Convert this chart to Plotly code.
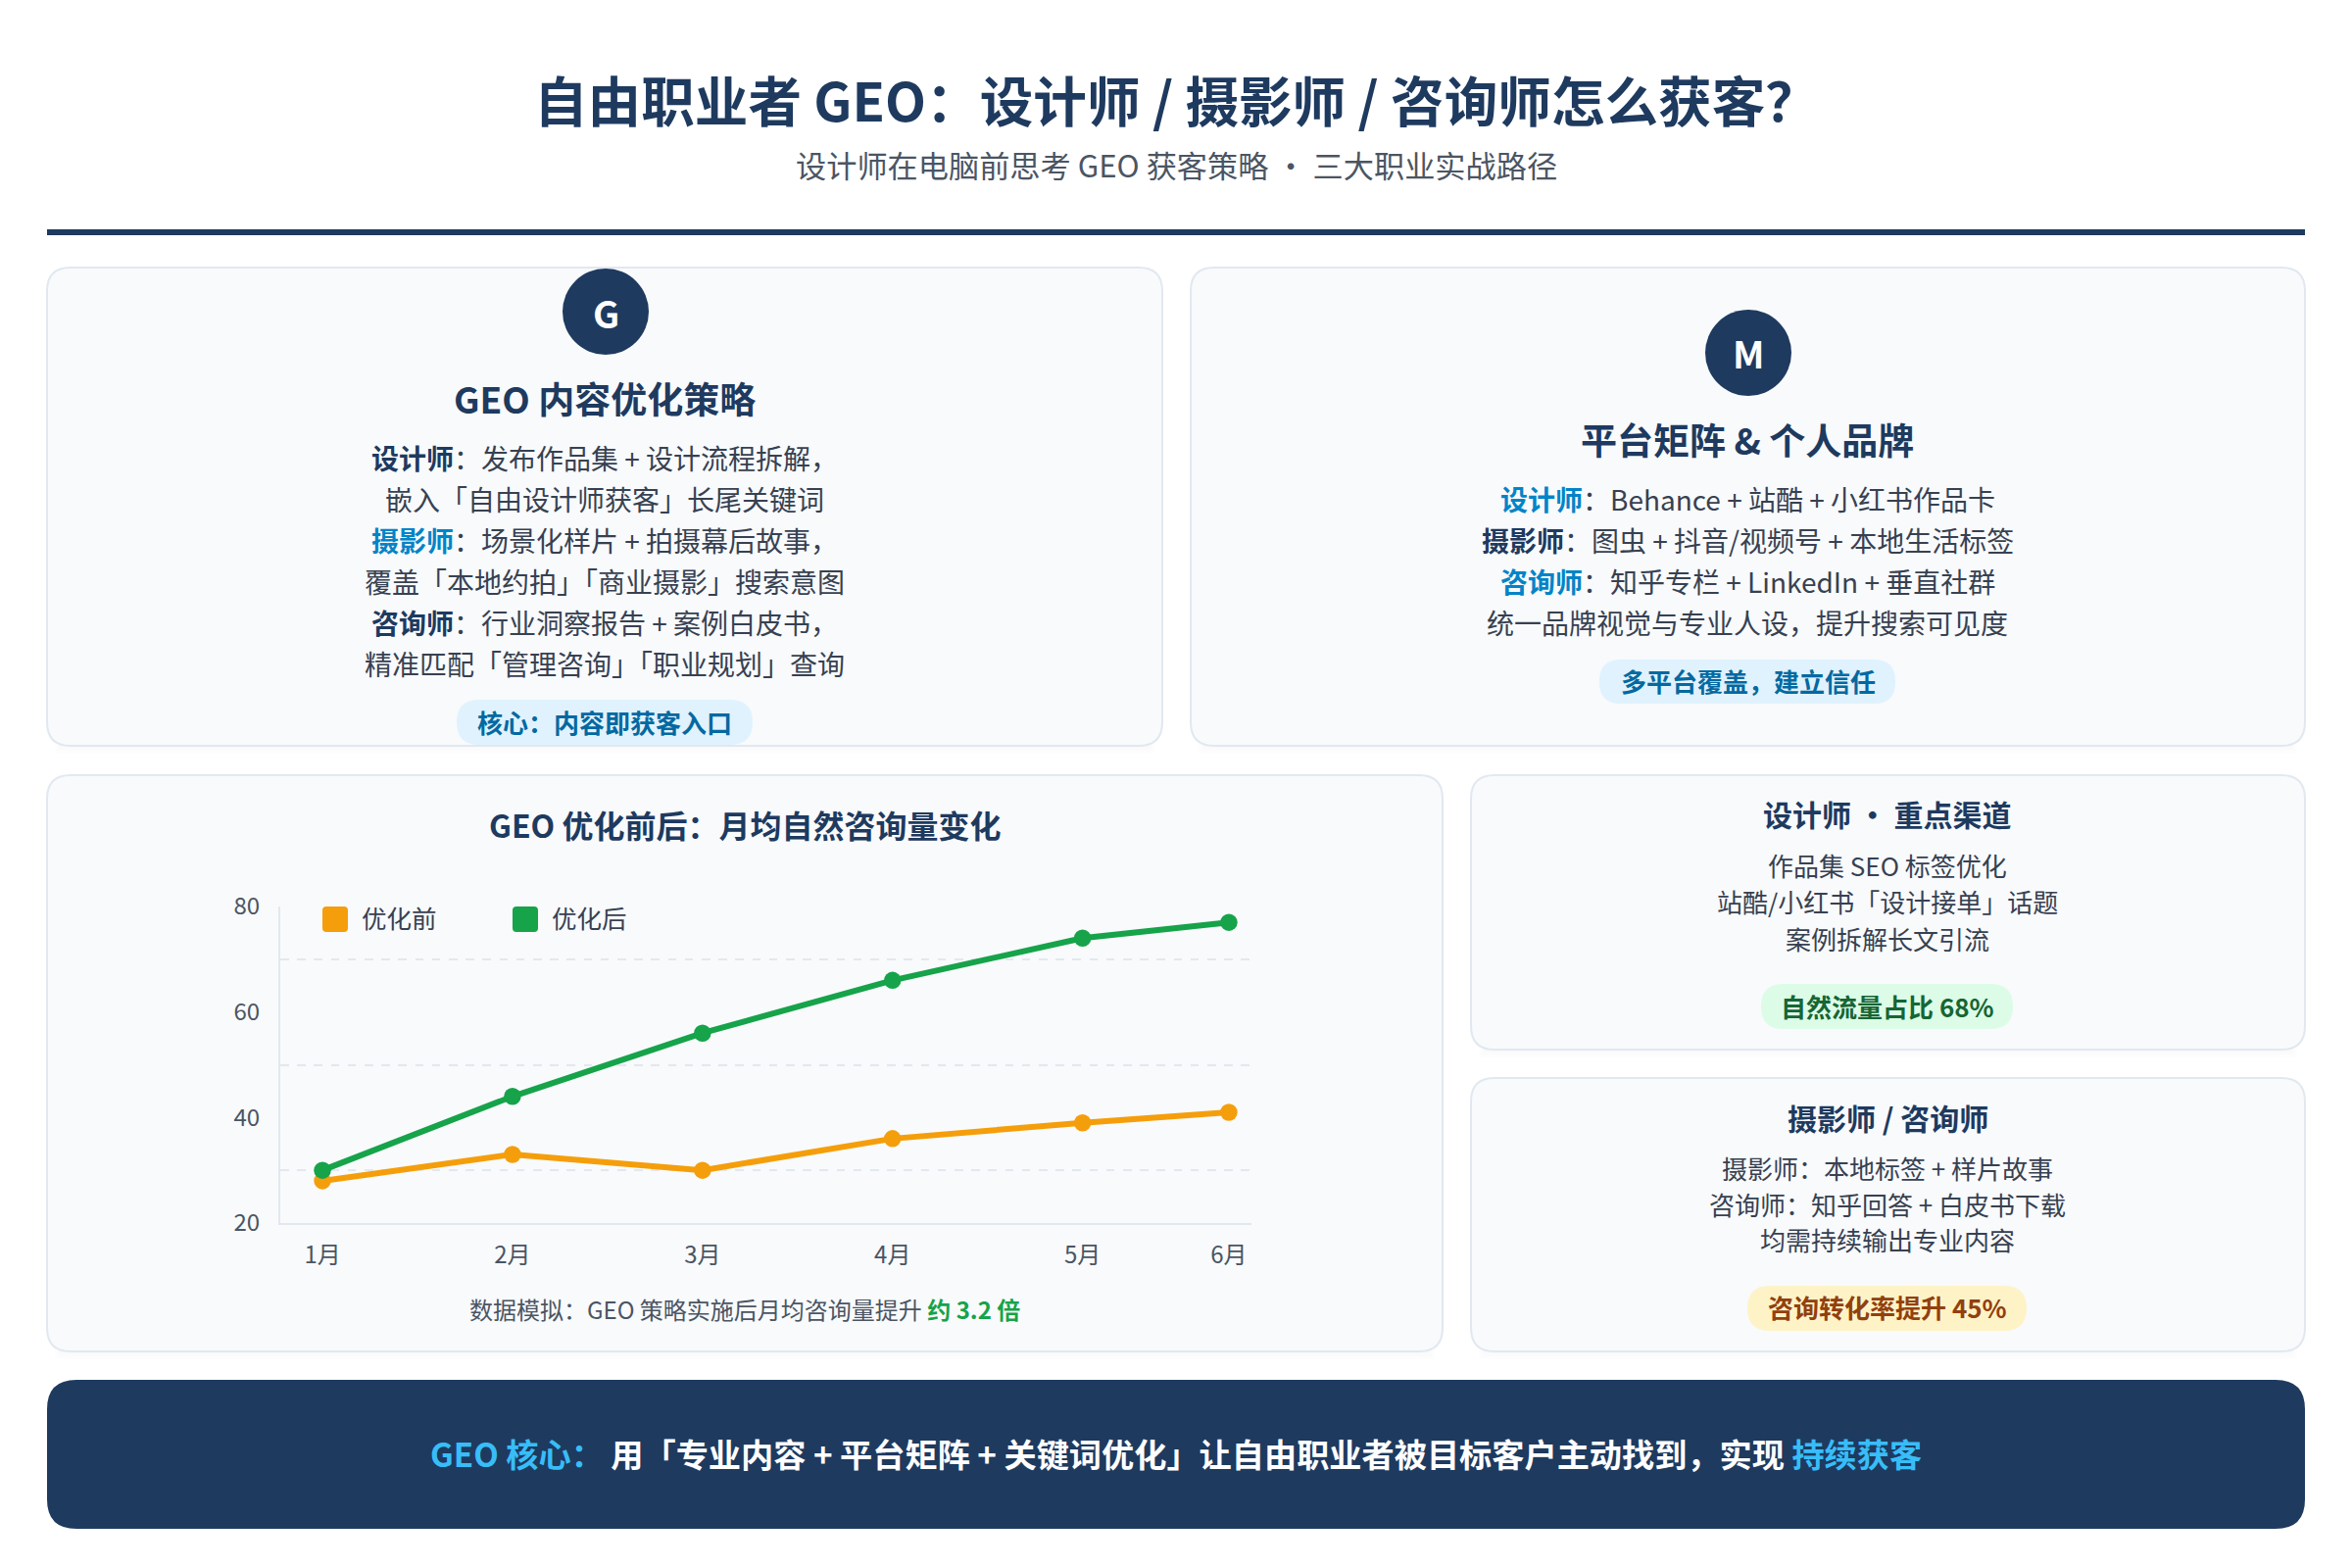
"""
自由职业者 GEO 信息图: cards drawn as shapes, the line chart on real axes.
"""

import plotly.graph_objects as go

W, H = 2400, 1600
FONT = "Noto Sans CJK SC"

NAVY = "#1e3a5f"
BLUE = "#0284c7"
BODY = "#374151"
GREY = "#4b5563"
CARD = "#f8fafc"
EDGE = "#e2e8f0"
ORANGE = "#f59e0b"
GREEN = "#16a34a"
SKY = "#38bdf8"

# chart data
month_x = [1, 2, 3, 4, 5, 5.77]
month_labels = ["1月", "2月", "3月", "4月", "5月", "6月"]
before = [28, 33, 30, 36, 39, 41]
after = [30, 44, 56, 66, 74, 77]
y_ticks = [20, 40, 60, 80]
y_grid = [30, 50, 70]

shapes = []
notes = []


def px(x):
    return x / W


def py(y):
    return 1 - y / H


def round_rect(x0, y0, x1, y1, r, fill, line=None, width=0):
    path = (
        f"M {px(x0 + r)} {py(y0)} L {px(x1 - r)} {py(y0)} "
        f"Q {px(x1)} {py(y0)} {px(x1)} {py(y0 + r)} L {px(x1)} {py(y1 - r)} "
        f"Q {px(x1)} {py(y1)} {px(x1 - r)} {py(y1)} L {px(x0 + r)} {py(y1)} "
        f"Q {px(x0)} {py(y1)} {px(x0)} {py(y1 - r)} L {px(x0)} {py(y0 + r)} "
        f"Q {px(x0)} {py(y0)} {px(x0 + r)} {py(y0)} Z"
    )
    shapes.append(
        dict(
            type="path",
            xref="paper",
            yref="paper",
            path=path,
            fillcolor=fill,
            line=dict(color=line or fill, width=width),
            layer="below",
        )
    )


def card(x0, y0, x1, y1):
    # soft shadow first, then the card on top
    for grow in (8, 5, 2):
        shapes.append(
            dict(
                type="rect",
                xref="paper",
                yref="paper",
                x0=px(x0 + 16 - grow),
                x1=px(x1 - 16 + grow),
                y0=py(y1 + grow),
                y1=py(y1 - 10),
                fillcolor="rgba(0,0,0,0.008)",
                line_width=0,
                layer="below",
            )
        )
    round_rect(x0, y0, x1, y1, 24, CARD, EDGE, 2)


def circle(cx, cy, r, fill):
    shapes.append(
        dict(
            type="circle",
            xref="paper",
            yref="paper",
            x0=px(cx - r),
            x1=px(cx + r),
            y0=py(cy + r),
            y1=py(cy - r),
            fillcolor=fill,
            line_width=0,
            layer="below",
        )
    )


def label(x, y, text, size, color=BODY, bold=False, anchor="center"):
    notes.append(
        dict(
            x=px(x),
            y=py(y),
            xref="paper",
            yref="paper",
            text=f"<b>{text}</b>" if bold else text,
            showarrow=False,
            xanchor=anchor,
            yanchor="middle",
            font=dict(family=FONT, size=size, color=color),
        )
    )


def tint(text, color):
    return f'<b><span style="color:{color}">{text}</span></b>'


# header
label(1200, 100, "自由职业者 GEO：设计师 / 摄影师 / 咨询师怎么获客？", 54.6, NAVY, True)
label(1200, 168, "设计师在电脑前思考 GEO 获客策略 · 三大职业实战路径", 31.2, GREY)
round_rect(48, 234, 2352, 240, 0.01, NAVY)

# top left card
card(48, 273, 1186, 761)
circle(618, 318, 44, NAVY)
label(618, 318, "G", 38, "#ffffff", True)
label(617, 406, "GEO 内容优化策略", 37, NAVY, True)
label(617, 467, tint("设计师", NAVY) + "：发布作品集 + 设计流程拆解，", 28)
label(617, 509, "嵌入「自由设计师获客」长尾关键词", 28)
label(617, 551, tint("摄影师", BLUE) + "：场景化样片 + 拍摄幕后故事，", 28)
label(617, 593, "覆盖「本地约拍」「商业摄影」搜索意图", 28)
label(617, 635, tint("咨询师", NAVY) + "：行业洞察报告 + 案例白皮书，", 28)
label(617, 677, "精准匹配「管理咨询」「职业规划」查询", 28)
round_rect(466, 714, 768, 760, 23, "#e0f2fe")
label(617, 736, "核心：内容即获客入口", 26, "#0369a1", True)

# top right card
card(1215, 273, 2352, 761)
circle(1784, 360, 44, NAVY)
label(1784, 360, "M", 38, "#ffffff", True)
label(1783, 448, "平台矩阵 & 个人品牌", 37, NAVY, True)
label(1783, 509, tint("设计师", BLUE) + "：Behance + 站酷 + 小红书作品卡", 28)
label(1783, 551, tint("摄影师", NAVY) + "：图虫 + 抖音/视频号 + 本地生活标签", 28)
label(1783, 593, tint("咨询师", BLUE) + "：知乎专栏 + LinkedIn + 垂直社群", 28)
label(1783, 635, "统一品牌视觉与专业人设，提升搜索可见度", 28)
round_rect(1632, 673, 1934, 718, 22, "#e0f2fe")
label(1784, 694, "多平台覆盖，建立信任", 26, "#0369a1", True)

# chart card
card(48, 791, 1472, 1379)
label(760, 841, "GEO 优化前后：月均自然咨询量变化", 32, NAVY, True)
round_rect(329, 925, 355, 951, 4, ORANGE)
label(367, 935, "优化前", 25.5, BODY, anchor="left")
round_rect(523, 925, 549, 951, 4, GREEN)
label(561, 935, "优化后", 25.5, BODY, anchor="left")
label(760, 1335, "数据模拟：GEO 策略实施后月均咨询量提升 " + tint("约 3.2 倍", GREEN), 24, GREY)

# right column cards
card(1501, 791, 2352, 1071)
label(1926, 830, "设计师 · 重点渠道", 30, NAVY, True)
label(1926, 882, "作品集 SEO 标签优化", 26)
label(1926, 920, "站酷/小红书「设计接单」话题", 26)
label(1926, 957, "案例拆解长文引流", 26)
round_rect(1797, 1004, 2054, 1050, 23, "#dcfce7")
label(1926, 1026, "自然流量占比 68%", 26, "#166534", True)

card(1501, 1100, 2352, 1379)
label(1926, 1140, "摄影师 / 咨询师", 30, NAVY, True)
label(1926, 1191, "摄影师：本地标签 + 样片故事", 26)
label(1926, 1228, "咨询师：知乎回答 + 白皮书下载", 26)
label(1926, 1264, "均需持续输出专业内容", 26)
round_rect(1783, 1312, 2068, 1358, 23, "#fef3c7")
label(1926, 1333, "咨询转化率提升 45%", 26, "#92400e", True)

# footer banner
round_rect(48, 1408, 2352, 1560, 30, NAVY)
label(
    1200,
    1482,
    tint("GEO 核心：", SKY)
    + " <b>用「专业内容 + 平台矩阵 + 关键词优化」让自由职业者被目标客户主动找到，实现</b> "
    + tint("持续获客", SKY),
    33.2,
    "#ffffff",
)

fig = go.Figure()
fig.add_trace(
    go.Scatter(
        name="优化前",
        x=month_x,
        y=before,
        mode="lines+markers",
        line=dict(color=ORANGE, width=6),
        marker=dict(color=ORANGE, size=17.5),
    )
)
fig.add_trace(
    go.Scatter(
        name="优化后",
        x=month_x,
        y=after,
        mode="lines+markers",
        line=dict(color=GREEN, width=6),
        marker=dict(color=GREEN, size=17.5),
    )
)

fig.update_layout(
    width=W,
    height=H,
    margin=dict(l=0, r=0, t=0, b=0, pad=0, autoexpand=False),
    paper_bgcolor="#ffffff",
    plot_bgcolor="rgba(0,0,0,0)",
    font=dict(family=FONT, color=GREY),
    showlegend=False,
    shapes=shapes,
    annotations=notes,
    xaxis=dict(
        domain=[px(286), px(1277)],
        range=[0.778, 5.889],
        tickmode="array",
        tickvals=month_x,
        ticktext=month_labels,
        tickfont=dict(size=24, color=GREY),
        showgrid=False,
        zeroline=False,
        showline=True,
        linecolor=EDGE,
        linewidth=2,
        ticks="outside",
        ticklen=10,
        tickcolor="rgba(0,0,0,0)",
    ),
    yaxis=dict(
        domain=[py(1248), py(925)],
        range=[20, 80],
        tickmode="array",
        tickvals=y_ticks,
        tickfont=dict(size=24, color=GREY),
        showgrid=False,
        zeroline=False,
        showline=True,
        linecolor=EDGE,
        linewidth=2,
        ticks="outside",
        ticklen=14,
        tickcolor="rgba(0,0,0,0)",
        minor=dict(
            tickmode="array",
            tickvals=y_grid,
            showgrid=True,
            gridcolor=EDGE,
            gridwidth=2,
            griddash="8.5px,8.7px",
            ticks="",
        ),
    ),
)

fig.write_html(
    "out.html",
    config=dict(displayModeBar=False),
    post_script="document.body.style.margin='0';document.body.style.overflow='hidden';",
)
